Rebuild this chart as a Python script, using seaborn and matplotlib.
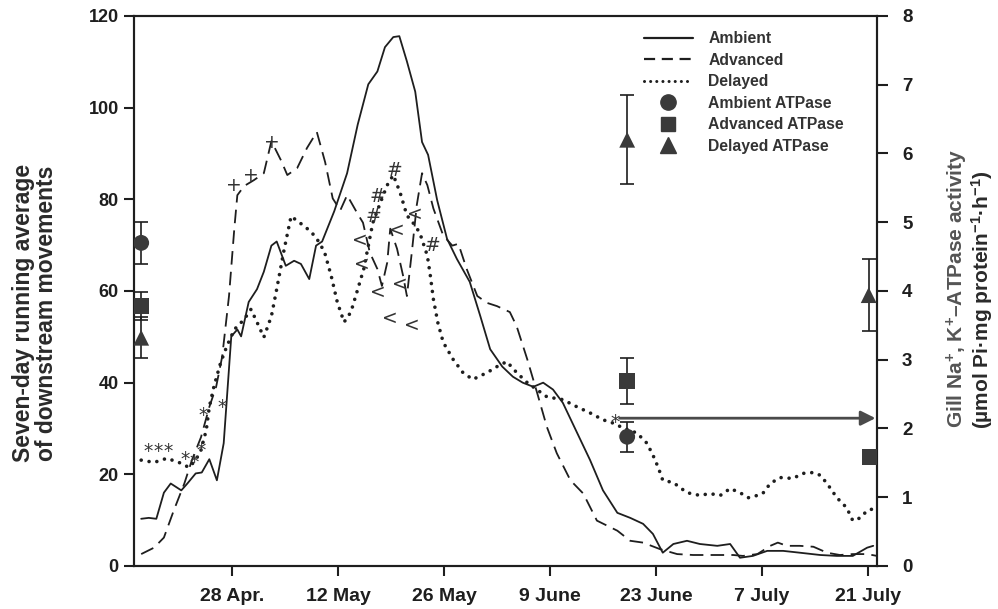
import numpy as np
import pandas as pd
import matplotlib
matplotlib.use("Agg")
import matplotlib.pyplot as plt
from matplotlib.lines import Line2D
import seaborn as sns

# ---------------- data (days relative to 28 April) ----------------
tick_days = [0, 14, 28, 42, 56, 70, 84]
tick_labels = ["28 Apr.", "12 May", "26 May", "9 June", "23 June", "7 July", "21 July"]

amb_day = [-12.0, -11.0, -10.0, -9.0, -8.1, -6.7, -5.9, -4.8, -4.0, -3.0, -2.0, -1.1, -0.1, 0.7, 1.2,
           2.2, 3.3, 4.2, 5.2, 5.9, 7.1, 8.2, 9.1, 10.2, 11.1, 11.9, 13.5, 15.2, 16.6, 18.0, 19.2,
           20.2, 21.3, 22.1, 23.1, 24.2, 25.1, 25.9, 27.1, 28.4, 29.7, 31.4, 32.8, 34.1, 35.7,
           37.1, 38.4, 39.8, 41.1, 42.4, 43.7, 45.6, 47.3, 49.0, 50.9, 52.6, 54.3, 55.6, 56.9,
           58.3, 60.1, 61.8, 64.1, 65.8, 67.1, 68.8, 70.7, 72.8, 75.0, 77.7, 79.9, 82.0, 83.9, 84.7]
amb_val = [10.3, 10.5, 10.3, 16.0, 18.0, 16.5, 18.0, 20.2, 20.4, 23.3, 18.7, 26.8, 50.1, 51.6, 50.1,
           57.6, 60.4, 64.2, 69.9, 70.8, 65.5, 66.6, 65.9, 62.6, 69.9, 70.8, 77.4, 85.7, 96.3, 105.1, 107.9,
           113.2, 115.4, 115.6, 110.1, 103.5, 92.5, 89.7, 79.8, 71.4, 67.0, 62.0, 54.5, 47.3, 43.5,
           41.3, 40.0, 39.1, 40.0, 38.5, 35.6, 29.0, 23.1, 16.5, 11.6, 10.5, 9.2, 7.0, 2.9,
           4.8, 5.5, 4.8, 4.4, 4.8, 1.8, 2.2, 3.3, 3.3, 2.9, 2.4, 2.2, 2.2, 4.0, 4.4]

adv_day = [-12.0, -10.3, -9.0, -7.7, -6.3, -5.3, -4.1, -3.0, -2.1, -1.3, -0.4, 0.3, 0.7, 1.6, 2.9,
           4.2, 5.2, 6.5, 7.3, 8.6, 9.9, 11.2, 12.3, 13.3, 14.3, 15.2, 16.5, 17.3, 18.2, 19.2, 19.8,
           20.5, 20.9, 21.8, 22.6, 23.1, 23.8, 24.4, 25.1, 25.8, 26.6, 27.9, 29.1, 29.9, 31.0,
           32.4, 33.7, 35.0, 36.7, 37.6, 39.0, 40.3, 41.6, 42.9, 44.7, 46.4, 48.2, 50.9, 52.6,
           54.3, 56.5, 58.8, 60.9, 63.5, 66.2, 67.5, 69.4, 71.1, 72.1, 73.3, 75.0, 76.8, 78.6,
           80.3, 82.0, 83.9, 85.2]
adv_val = [2.6, 4.0, 6.2, 12.1, 18.0, 23.1, 28.1, 34.7, 39.1, 45.7, 58.9, 73.6, 80.9, 82.9, 84.2,
           85.7, 92.7, 88.4, 85.3, 86.8, 91.2, 94.7, 88.1, 80.2, 77.6, 80.9, 77.1, 74.9, 68.4, 64.8, 61.1,
           66.2, 73.6, 69.2, 63.3, 58.9, 69.2, 78.7, 85.7, 83.1, 78.0, 72.1, 69.9, 70.3, 64.8,
           58.9, 57.4, 56.7, 55.4, 52.3, 45.1, 37.8, 30.3, 24.6, 18.7, 15.8, 9.9, 7.7, 5.5,
           5.1, 3.7, 2.6, 2.4, 2.4, 2.4, 2.2, 2.6, 4.4, 5.1, 4.4, 4.4, 4.2, 2.9,
           2.4, 2.6, 2.6, 2.2]

del_day = [-12.0, -10.3, -8.6, -6.7, -5.7, -4.8, -4.1, -3.4, -3.0, -2.4, -1.5, -0.7, 0.3, 1.6, 2.5,
           3.3, 4.2, 5.2, 5.9, 6.9, 7.8, 9.1, 10.4, 11.2, 12.2, 13.1, 13.9, 14.8, 15.7, 16.5, 17.4,
           18.6, 19.6, 20.5, 21.3, 22.2, 23.1, 23.9, 24.8, 25.8, 26.2, 26.6, 27.2, 27.9, 29.2,
           30.5, 31.8, 33.7, 35.0, 36.3, 37.6, 39.0, 41.6, 43.7, 45.6, 47.3, 49.0, 50.3, 51.7,
           53.5, 54.8, 55.6, 56.3, 56.9, 58.3, 60.1, 61.8, 63.1, 64.5, 65.8, 67.1, 68.2, 69.4,
           70.1, 71.1, 72.4, 74.1, 75.4, 76.8, 77.7, 78.6, 79.9, 81.2, 82.0, 83.0, 83.9, 85.2]
del_val = [23.1, 22.6, 23.5, 22.4, 21.5, 23.1, 25.3, 29.7, 34.7, 39.1, 44.4, 47.9, 51.6, 53.8, 56.0,
           53.2, 49.9, 54.5, 60.4, 69.2, 76.3, 74.7, 73.0, 71.4, 68.6, 63.3, 57.6, 53.2, 55.4, 59.8, 64.8,
           74.9, 79.3, 83.1, 85.3, 81.5, 76.5, 74.9, 72.7, 67.7, 63.3, 58.2, 53.0, 48.8, 45.1,
           42.2, 40.7, 42.2, 43.5, 44.6, 42.2, 40.0, 36.9, 36.3, 34.7, 33.4, 31.9, 31.2, 30.1,
           29.0, 26.8, 24.2, 21.5, 18.7, 18.2, 16.0, 15.4, 15.8, 15.4, 16.9, 16.0, 14.9, 15.4,
           15.8, 18.0, 19.3, 19.1, 20.2, 20.4, 19.8, 18.0, 14.9, 12.7, 9.9, 10.5, 12.1, 12.7]

# Gill Na+,K+-ATPase activity (right axis)
atp_group = ["Ambient ATPase", "Advanced ATPase", "Delayed ATPase",
             "Ambient ATPase", "Advanced ATPase", "Delayed ATPase",
             "Advanced ATPase", "Delayed ATPase"]
atp_day = [-12.0, -12.0, -12.0, 52.2, 52.2, 52.2, 84.2, 84.1]
atp_val = [4.70, 3.78, 3.32, 1.88, 2.69, 6.20, 1.59, 3.94]
atp_err = [0.31, 0.20, 0.30, 0.22, 0.33, 0.65, 0.08, 0.52]

# significance symbols drawn on the chart
sym_text = ["*", "*", "*", "*", "*", "*", "*", "*", "*",
            "+", "+", "+",
            "#", "#", "#", "#",
            "<", "<", "<", "<", "<", "<", "<", "<"]
sym_day = [-11.1, -9.8, -8.5, -6.2, -5.0, -4.1, -3.8, -1.3, 50.6,
           0.3, 2.5, 5.2,
           21.4, 19.2, 18.7, 26.4,
           16.9, 17.2, 19.3, 21.8, 22.2, 24.2, 20.9, 23.8]
sym_val = [24.9, 24.9, 24.9, 23.3, 22.5, 25.3, 32.9, 34.5, 31.2,
           83.1, 85.1, 92.5,
           86.2, 80.7, 76.2, 70.0,
           71.1, 65.7, 59.6, 73.3, 61.5, 76.8, 54.1, 52.4]

# ---------------- style ----------------
sns.set_style("ticks")
plt.rcParams['font.family'] = ['Liberation Sans', 'DejaVu Sans']
plt.rcParams['font.weight'] = 'bold'
plt.rcParams['mathtext.fontset'] = 'custom'
plt.rcParams['mathtext.rm'] = 'Liberation Sans:bold'
plt.rcParams['mathtext.bf'] = 'Liberation Sans:bold'
plt.rcParams['mathtext.it'] = 'Liberation Sans:bold'
plt.rcParams['mathtext.default'] = 'bf'

fig = plt.figure(figsize=(9.98, 6.09), dpi=100)
ax = fig.add_axes([0.13427, 0.07061, 0.74449, 0.90312])
ax2 = ax.twinx()

ink = "#1e1e1e"
sns.lineplot(x=amb_day, y=amb_val, ax=ax, color=ink, lw=1.3, sort=False, estimator=None)
sns.lineplot(x=adv_day, y=adv_val, ax=ax, color=ink, lw=1.3, sort=False, estimator=None,
             linestyle=(0, (7.5, 4)))
sns.lineplot(x=del_day, y=del_val, ax=ax, color=ink, lw=2.6, sort=False, estimator=None,
             linestyle=(0, (0.01, 2.2)), dash_capstyle='round')

for t, d, v in zip(sym_text, sym_day, sym_val):
    ax.text(d, v, t, ha='center', va='center', fontsize=13.5, color='#333333',
            fontweight='normal', family=['DejaVu Sans'])

ax.set_xlim(-12.95, 85.2)
ax.set_ylim(0, 120)
ax.set_xticks(tick_days)
ax.set_xticklabels(tick_labels)
ax.set_yticks(np.arange(0, 121, 20))
ax.tick_params(axis='both', direction='out', length=7, width=1.5, labelsize=13,
               colors=ink, pad=4)
ax.tick_params(axis='x', pad=9, labelsize=14)
for s in ax.spines.values():
    s.set_linewidth(1.5)
    s.set_color(ink)
for s in ax2.spines.values():
    s.set_linewidth(1.5)
    s.set_color(ink)

ax.set_ylabel("Seven-day running average\nof downstream movements", fontsize=16.5,
              fontweight='bold', color='#2a2a2a', linespacing=1.0)
ax.yaxis.set_label_coords(-0.102, 0.46)

# right axis: ATPase
atp = pd.DataFrame({"group": atp_group, "day": atp_day, "val": atp_val, "err": atp_err})
ax2.errorbar(atp["day"], atp["val"], yerr=atp["err"], fmt='none', ecolor=ink,
             elinewidth=1.2, capsize=5, capthick=1.2, zorder=2)
sns.scatterplot(data=atp, x="day", y="val", style="group",
                markers={"Ambient ATPase": "o", "Advanced ATPase": "s", "Delayed ATPase": "^"},
                color="#3a3a3a", s=130, edgecolor="#3a3a3a", linewidth=0, legend=False,
                ax=ax2, zorder=3)
ax2.set_ylim(0, 8)
ax2.set_yticks(range(0, 9))
ax2.tick_params(axis='y', direction='out', length=8, width=1.5, labelsize=13.5,
                colors=ink, pad=10)
ax2.set_ylabel("")
ax.set_xlabel("")

# arrow
ax2.annotate("", xy=(85.0, 2.15), xytext=(51.2, 2.15),
             arrowprops=dict(arrowstyle="-|>", color="#4a4a4a", lw=2.0, mutation_scale=22,
                             shrinkA=0, shrinkB=0))

# right axis label
fig.text(957 / 998, 1 - 288 / 609, "Gill Na$^{+}$, K$^{+}$\u2013ATPase activity", rotation=90,
         ha='center', va='center', fontsize=15, fontweight='bold', color='#555555')
fig.text(982 / 998, 1 - 300 / 609,
         "(\u00b5mol Pi\u00b7mg protein$^{\u22121}$\u00b7h$^{\u22121}$)", rotation=90,
         ha='center', va='center', fontsize=15, fontweight='bold', color='#2a2a2a')

# legend
handles = [
    Line2D([], [], color=ink, lw=1.6),
    Line2D([], [], color=ink, lw=1.6, linestyle=(0, (5, 3))),
    Line2D([], [], color=ink, lw=2.2, linestyle=(0, (0.01, 2.0)), dash_capstyle='round'),
    Line2D([], [], color="#3a3a3a", marker='o', lw=0, markersize=11),
    Line2D([], [], color="#3a3a3a", marker='s', lw=0, markersize=10),
    Line2D([], [], color="#3a3a3a", marker='^', lw=0, markersize=11),
]
labels = ["Ambient", "Advanced", "Delayed", "Ambient ATPase", "Advanced ATPase", "Delayed ATPase"]
leg = ax2.legend(handles, labels, loc='upper left', bbox_to_anchor=(644 / 998, 1 - 31 / 609),
                 bbox_transform=fig.transFigure, frameon=False, fontsize=11.3,
                 handlelength=3.1, handletextpad=1.0, labelspacing=0.42, borderpad=0,
                 borderaxespad=0)
for t in leg.get_texts():
    t.set_color('#333333')
    t.set_fontweight('bold')

fig.savefig("out.png", dpi=100, facecolor='white')
